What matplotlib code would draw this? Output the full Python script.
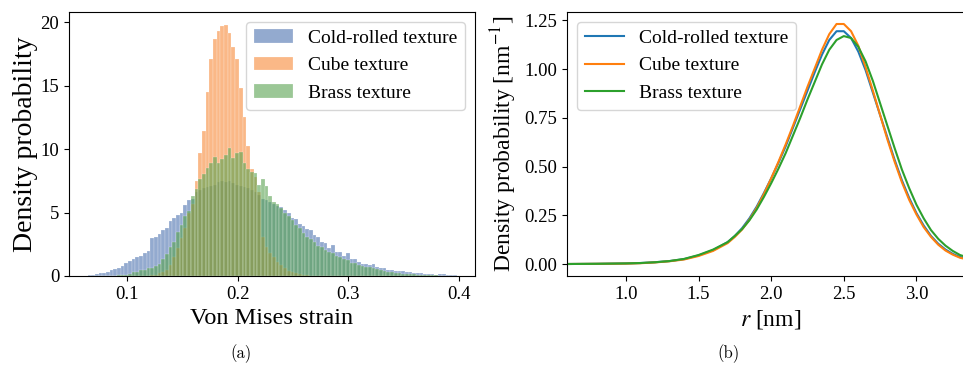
import matplotlib.pyplot as plt
import numpy as np

plt.rcParams['font.family'] = 'Liberation Serif'
plt.rcParams['mathtext.fontset'] = 'stix'
plt.rcParams['axes.unicode_minus'] = False

# Histogram of von Mises strain (density), 100 common bins
bin_start = 0.064
bin_width = 0.00334
cold_rolled = [
    0.08, 0.1, 0.15, 0.2, 0.26, 0.35, 0.45, 0.55, 0.65, 0.8,
    1.05, 1.15, 1.3, 1.5, 1.6, 1.85, 1.95, 3.0, 3.05, 3.3,
    3.6, 3.8, 4.3, 4.6, 4.8, 5.0, 5.6, 6.0, 6.1, 6.6,
    6.8, 6.9, 7.0, 7.1, 7.2, 7.4, 7.5, 7.4, 7.5, 7.3,
    7.2, 7.1, 7.0, 6.9, 6.8, 6.6, 6.4, 6.1, 6.0, 5.8,
    5.7, 5.5, 5.4, 5.2, 5.0, 4.6, 4.5, 4.1, 3.9, 3.7,
    3.6, 3.2, 3.1, 2.7, 2.6, 2.2, 2.45, 1.9, 1.9, 1.6,
    1.8, 1.3, 1.3, 1.1, 0.95, 0.95, 0.9, 0.95, 0.7, 0.6,
    0.6, 0.5, 0.45, 0.4, 0.4, 0.4, 0.35, 0.3, 0.27, 0.25,
    0.25, 0.15, 0.15, 0.15, 0.1, 0.18, 0.18, 0.08, 0.05, 0.04,
]
cube = [
    0, 0, 0, 0, 0, 0, 0, 0, 0, 0,
    0, 0, 0, 0, 0, 0, 0.02, 0.05, 0.1, 0.2,
    0.3, 0.5, 0.9, 1.5, 2.2, 3.0, 3.8, 5.0, 5.7, 7.45,
    9.7, 11.4, 14.5, 17.1, 18.7, 19.3, 19.7, 19.8, 19.1, 18.0,
    17.1, 14.8, 12.5, 10.2, 8.4, 7.8, 6.6, 3.1, 2.3, 1.8,
    1.5, 1.1, 0.87, 0.6, 0.4, 0.3, 0.2, 0.15, 0.1, 0.05,
    0.03, 0.02, 0, 0, 0, 0, 0, 0, 0, 0,
    0, 0, 0, 0, 0, 0, 0, 0, 0, 0,
    0, 0, 0, 0, 0, 0, 0, 0, 0, 0,
    0, 0, 0, 0, 0, 0, 0, 0, 0, 0,
]
brass = [
    0, 0, 0, 0, 0, 0, 0, 0.02, 0.04, 0.06,
    0.1, 0.15, 0.3, 0.35, 0.45, 0.5, 0.6, 0.65, 0.75, 0.95,
    1.3, 1.7, 2.3, 2.7, 3.5, 4.0, 4.7, 5.1, 6.3, 6.85,
    7.6, 8.0, 8.5, 8.9, 9.4, 8.9, 9.2, 9.55, 10.1, 9.3,
    9.7, 9.8, 8.9, 8.4, 8.2, 8.1, 7.2, 7.6, 7.05, 6.3,
    5.8, 5.7, 5.35, 4.95, 4.7, 4.4, 4.0, 3.77, 3.4, 3.1,
    2.9, 2.7, 2.4, 2.3, 2.05, 1.9, 1.8, 1.6, 1.5, 1.35,
    1.26, 1.05, 1.0, 0.87, 0.8, 0.73, 0.7, 0.6, 0.55, 0.47,
    0.4, 0.34, 0.3, 0.25, 0.2, 0.18, 0.15, 0.12, 0.12, 0.1,
    0.08, 0.06, 0.05, 0.05, 0.04, 0.03, 0.03, 0.02, 0.02, 0.01,
]

# Radial distribution (density) curves
r = [0.6, 0.8, 1.0, 1.1, 1.2, 1.3, 1.4, 1.5, 1.6, 1.7, 1.75, 1.8, 1.85, 1.9, 1.95,
     2.0, 2.05, 2.1, 2.15, 2.2, 2.25, 2.3, 2.35, 2.4, 2.45, 2.5, 2.55, 2.6, 2.65,
     2.7, 2.75, 2.8, 2.85, 2.9, 2.95, 3.0, 3.05, 3.1, 3.15, 3.2, 3.25, 3.3, 3.4]
rdf_cold = [0.001, 0.002, 0.004, 0.006, 0.010, 0.016, 0.026, 0.045, 0.072, 0.113, 0.145,
            0.185, 0.235, 0.295, 0.365, 0.44, 0.52, 0.605, 0.70, 0.795, 0.89, 0.985,
            1.075, 1.15, 1.195, 1.195, 1.16, 1.09, 0.995, 0.88, 0.765, 0.65, 0.535,
            0.43, 0.34, 0.262, 0.198, 0.145, 0.105, 0.075, 0.053, 0.037, 0.018]
rdf_cube = [0.001, 0.002, 0.003, 0.005, 0.009, 0.015, 0.024, 0.042, 0.068, 0.108, 0.14,
            0.178, 0.228, 0.288, 0.36, 0.44, 0.525, 0.615, 0.71, 0.81, 0.91, 1.005,
            1.10, 1.18, 1.232, 1.232, 1.195, 1.12, 1.01, 0.89, 0.765, 0.64, 0.525,
            0.42, 0.33, 0.255, 0.19, 0.14, 0.1, 0.07, 0.049, 0.033, 0.016]
rdf_brass = [0.001, 0.002, 0.004, 0.006, 0.010, 0.016, 0.027, 0.047, 0.075, 0.113, 0.145,
             0.18, 0.225, 0.28, 0.345, 0.415, 0.49, 0.57, 0.66, 0.75, 0.845, 0.935,
             1.025, 1.10, 1.15, 1.17, 1.16, 1.115, 1.04, 0.94, 0.825, 0.71, 0.595,
             0.485, 0.39, 0.305, 0.235, 0.175, 0.13, 0.095, 0.068, 0.047, 0.024]

labels = ['Cold-rolled texture', 'Cube texture', 'Brass texture']

edges = bin_start + bin_width * np.arange(len(cold_rolled) + 1)

fig = plt.figure(figsize=(9.63, 3.75), dpi=100)
ax1 = fig.add_axes([0.0717, 0.264, 0.4216, 0.704])
ax2 = fig.add_axes([0.589, 0.264, 0.423, 0.704])

# (a) histograms
hist_colors = ['#4C72B0', '#F78A37', '#58A350']
for vals, lab, col in zip([cold_rolled, cube, brass], labels, hist_colors):
    ax1.hist(edges[:-1], bins=edges, weights=vals, color=col, alpha=0.6,
             edgecolor='white', linewidth=0.25, label=lab)
ax1.set_xlabel('Von Mises strain', fontsize=17.5)
ax1.set_ylabel('Density probability', fontsize=20, labelpad=2)
ax1.set_xticks([0.1, 0.2, 0.3, 0.4])
ax1.set_yticks([0, 5, 10, 15, 20])
ax1.tick_params(labelsize=13.5)
ax1.legend(loc='upper right', fontsize=14)

# (b) curves
for vals, lab in zip([rdf_cold, rdf_cube, rdf_brass], labels):
    ax2.plot(r, vals, label=lab, linewidth=1.5)
ax2.set_xlim(0.596, 3.4)
ax2.set_xlabel('$r$ [nm]', fontsize=17)
ax2.set_ylabel('Density probability [nm$^{-1}$]', fontsize=17)
ax2.set_xticks([1.0, 1.5, 2.0, 2.5, 3.0])
ax2.set_yticks([0.0, 0.25, 0.5, 0.75, 1.0, 1.25])
ax2.yaxis.set_major_formatter(plt.FormatStrFormatter('%.2f'))
ax2.xaxis.set_major_formatter(plt.FormatStrFormatter('%.1f'))
ax2.tick_params(labelsize=13.5)
ax2.legend(loc='upper left', fontsize=14)

fig.text(0.25, 0.045, '(a)', ha='center', fontsize=12, family='cmr10')
fig.text(0.756, 0.045, '(b)', ha='center', fontsize=12, family='cmr10')

plt.savefig('out.png', dpi=100)
